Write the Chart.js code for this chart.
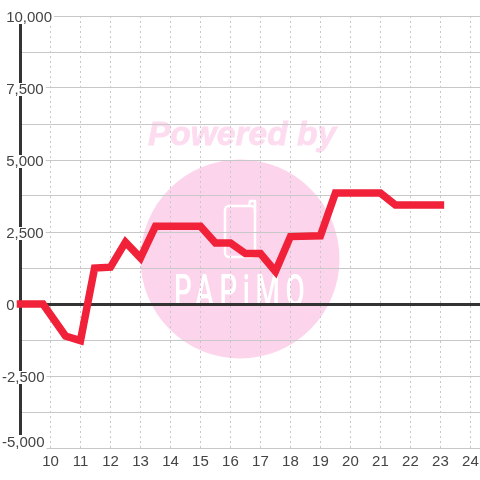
<!DOCTYPE html>
<html>
<head>
<meta charset="utf-8">
<style>html,body{margin:0;padding:0;background:#fff}canvas{display:block}</style>
<script src="https://cdn.jsdelivr.net/npm/chart.js@4"></script>
</head>
<body>
<canvas id="c" width="480" height="480"></canvas>
<script>
const hours  = [9, 9.75, 10.5, 11, 11.47, 12, 12.5, 13, 13.5, 15, 15.5, 16, 16.5, 17, 17.5, 18, 19, 19.5, 21, 21.5, 23];
const values = [0, 0, -1110, -1270, 1250, 1280, 2150, 1600, 2700, 2700, 2120, 2120, 1750, 1750, 1130, 2340, 2370, 3850, 3850, 3440, 3440];
const xTicks = [10, 11, 12, 13, 14, 15, 16, 17, 18, 19, 20, 21, 22, 23, 24];
const yTicks = [-5000, -3750, -2500, -1250, 0, 1250, 2500, 3750, 5000, 6250, 7500, 8750, 10000];
const bottomTick = [-5000];

const watermark = {
  id: 'watermark',
  beforeDraw(chart) {
    const g = chart.ctx;
    g.save();
    g.fillStyle = '#fff';
    g.fillRect(0, 0, 480, 480);
    g.fillStyle = '#fcd5ec';
    g.beginPath();
    g.arc(240, 259, 99.5, 0, Math.PI * 2);
    g.fill();
    g.fillStyle = '#fddcf0';
    g.strokeStyle = '#fddcf0';
    g.lineWidth = 0.8;
    g.font = 'italic bold 33.5px "Liberation Sans"';
    g.textAlign = 'center';
    g.textBaseline = 'alphabetic';
    g.fillText('Powered by', 242, 145);
    g.strokeText('Powered by', 242, 145);
    g.strokeStyle = '#fff';
    g.lineWidth = 2.5;
    g.lineJoin = 'round';
    g.beginPath();
    g.roundRect(225, 206, 30, 51, 4);
    g.stroke();
    g.beginPath();
    g.moveTo(249, 206);
    g.lineTo(250, 201);
    g.lineTo(255, 201);
    g.lineTo(255, 212);
    g.stroke();
    g.fillStyle = '#fff';
    g.translate(174, 306);
    g.scale(0.62, 1);
    g.font = '500 45px "Roboto"';
    g.letterSpacing = '9px';
    g.textAlign = 'left';
    g.fillText('PAPiMO', 0, 0);
    g.restore();
  }
};

const labelFont = { family: '"Liberation Sans"', size: 15 };
const fmt = v => v.toLocaleString('en-US');

new Chart(document.getElementById('c'), {
  type: 'line',
  data: {
    datasets: [{
      data: hours.map((h, i) => ({ x: h, y: values[i] })),
      xAxisID: 'x',
      yAxisID: 'y',
      borderColor: '#f02138',
      borderWidth: 7.5,
      borderCapStyle: 'square',
      borderJoinStyle: 'miter',
      pointRadius: 0,
      tension: 0,
      clip: false,
      fill: false
    }]
  },
  plugins: [watermark],
  options: {
    responsive: false,
    animation: false,
    parsing: false,
    normalized: true,
    layout: { padding: { left: 2, top: 16, right: 0, bottom: 0 } },
    plugins: { legend: { display: false }, tooltip: { enabled: false }, title: { display: false } },
    scales: {
      x: {
        type: 'linear',
        min: 9,
        max: 24.32,
        afterBuildTicks: s => { s.ticks = xTicks.map(v => ({ value: v })); },
        afterFit: s => { s.height = 32; s.paddingLeft = 0; s.paddingRight = 0; },
        border: { display: false, dash: [2, 3] },
        grid: { color: '#c8c8c8', lineWidth: 1, drawTicks: false, z: -2 },
        ticks: {
          autoSkip: false, maxRotation: 0, padding: 5,
          color: '#444', font: labelFont,
          callback: v => String(v)
        }
      },
      y: {
        type: 'linear',
        weight: 1,
        min: -5000,
        max: 10000,
        afterBuildTicks: s => { s.ticks = yTicks.map(v => ({ value: v })); },
        afterFit: s => { s.width = 18.5; s.paddingTop = 0; s.paddingBottom = 0; },
        border: { display: true, color: '#333', width: 3, z: -1 },
        grid: {
          z: -1,
          drawTicks: false,
          color: c => (c.tick && c.tick.value === 0 ? '#333' : '#c8c8c8'),
          lineWidth: c => (c.tick && c.tick.value === 0 ? 3 : 1)
        },
        ticks: {
          autoSkip: false, mirror: true, padding: -18.5, labelOffset: 2,
          color: '#444',
          font: labelFont,
          showLabelBackdrop: c => !!c.tick && c.tick.value !== -5000 && c.tick.value % 2500 === 0,
          backdropColor: '#fff',
          backdropPadding: { top: -2, bottom: -3, left: 0, right: 2 },
          callback: v => {
            if (v % 2500 !== 0 || v === -5000) return '';
            return v < 0 ? fmt(v) : ' ' + fmt(v);
          }
        }
      },
      yBottom: {
        type: 'linear',
        axis: 'y',
        position: 'left',
        weight: 0,
        min: -5000,
        max: 10000,
        afterBuildTicks: s => { s.ticks = bottomTick.map(v => ({ value: v })); },
        afterFit: s => { s.width = 0; s.paddingTop = 0; s.paddingBottom = 0; },
        border: { display: false },
        grid: { display: false, drawTicks: false },
        ticks: {
          autoSkip: false, mirror: true, padding: -18.5, labelOffset: -5,
          color: '#444',
          font: labelFont,
          showLabelBackdrop: true,
          backdropColor: '#fff',
          backdropPadding: { top: -1, bottom: -2, left: 0, right: 2 },
          callback: v => fmt(v)
        }
      }
    }
  }
});
</script>
</body>
</html>
